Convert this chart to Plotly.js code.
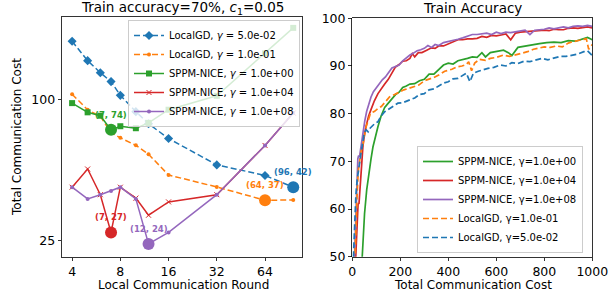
<!DOCTYPE html>
<html>
<head>
<meta charset="utf-8">
<script src="https://cdn.plot.ly/plotly-3.0.1.min.js"></script>
<style>html,body{margin:0;padding:0;background:#fff;}#chart{width:609px;height:294px;}</style>
</head>
<body>
<div id="chart"></div>
<script>
// ---------- Left panel: cost vs local communication round ----------
const localRounds = [4, 5, 6, 7, 8, 10, 12, 16, 32, 64, 96];
const costLocalGD005 = [178, 147, 130.6, 119.6, 104.5, 89, 79, 68.3, 52.7, 47.5, 42.3];
const costLocalGD01  = [105.7, 90.7, 85, 72.3, 68.8, 63.9, 58.5, 47.7, 42.4, 37.2, 37.3];
const costSPPM1      = [96.8, 88.4, 85.5, 74.4, 77.1, 75.6, 79.7, 90.7, 104, 158, 203];
const costSPPM1e4    = [42.3, 50.6, 39.3, 27.1, 42.3, 38, 32.1, 36.6, 39.3, 63.8, 87.8];
const costSPPM1e8    = [42.3, 37.7, 39.3, 40.8, 42.3, 37.7, 24.2, 27.1, 39.3, 63.8, 87.8];
const leftNames = ['LocalGD, <i>γ</i> = 5.0e-02', 'LocalGD, <i>γ</i> = 1.0e-01',
  'SPPM-NICE, <i>γ</i> = 1.0e+00', 'SPPM-NICE, <i>γ</i> = 1.0e+04', 'SPPM-NICE, <i>γ</i> = 1.0e+08'];

// ---------- Right panel: train accuracy vs total communication cost ----------
const accCostSPPM1 = [36,45,51,60,68,78,86,96,107,120,135,150,165,180,195,210,225,240,260,280,300,320,340,360,380,400,420,440,460,480,500,520,540,555,575,600,630,650,665,690,720,750,780,810,840,870,900,930,960,980,1000];
const accSPPM1     = [45,54,59,64,67.5,70.5,73,75.3,77.3,79.5,81.3,82.2,83.2,84,84.5,85.5,85.8,86.2,86.3,86.9,87.2,88.3,88.3,89.3,90.2,90.6,90.4,91.1,91.3,91.6,91.9,91.8,92.8,91.9,92.8,93.0,93.3,92.8,92.2,93.9,94.2,94.5,94.7,94.9,95.0,94.9,95.3,95.2,95.6,96.0,95.5];

const accCostSPPM1e4 = [10,14,18,21,24,28,31,35,40,44,50,58,68,79,92,107,120,135,150,165,180,195,210,225,240,250,260,275,290,310,330,345,360,380,400,420,440,460,480,500,520,540,560,580,600,620,640,660,680,700,720,740,760,780,800,820,840,860,880,900,920,940,960,980,1000];
const accSPPM1e4     = [45,50,54,56.5,61,61.2,63,66,70,73,75.5,77.5,79.5,81,82.7,84.2,85.2,86.2,87.2,88.5,89.8,90.3,91,91.1,91.6,92.6,91.9,92.8,92.8,93.3,93.8,93.7,94.2,94.2,94.6,95.1,95.5,95.5,95.7,95.7,95.8,96.2,96.0,96.4,96.3,96.5,96.7,95.5,96.9,97.1,97.2,97.3,97.4,97.5,97.5,97.4,97.7,97.6,97.6,97.9,98.0,97.9,98.1,98.2,98.0];

const accCostSPPM1e8 = [6,10,14,17,20,23,26,30,33,38,44,52,60,68,78,88,100,112,125,138,150,165,180,195,210,225,240,255,270,285,300,315,330,345,360,380,400,420,440,460,480,500,520,540,560,580,600,620,640,660,680,700,720,740,760,780,800,820,840,860,880,900,920,940,960,980,1000];
const accSPPM1e8     = [45,52,57,60,65,70.5,71.2,71,72,74,76,78.5,80.5,82,83.5,84.6,85.5,86.3,87.1,87.7,88.5,89.6,89.9,90.2,91.1,91.8,92.3,92.7,93.2,93.4,93.7,94.3,93.9,94.5,94.3,94.9,95.1,95.3,95.6,95.9,96.2,96.6,96.6,96.7,96.9,96.6,97.1,96.8,97.1,97.0,97.2,97.3,97.5,96.6,97.5,97.6,97.7,98.0,97.8,98.0,98.2,98.0,98.3,98.4,98.3,98.5,98.3];

const accCostLocalGD01 = [8,12,16,20,25,31,36,44,50,58,66,75,85,93,105,121,138,155,176,195,215,235,255,277,300,318,340,360,385,415,435,457,475,485,497,510,530,555,575,600,630,655,680,705,730,755,780,800,825,850,875,900,920,940,960,975,985,1000];
const accLocalGD01     = [45,52,58,63,68,70.5,72,73.5,75,77.3,78.5,80,80.3,80.5,81,81.5,82.5,83.5,84,84.5,85,85.3,85.7,86,86.9,87.2,87.6,88.1,88.9,89.3,89.8,90,90.3,90.9,89.0,90.6,91.4,91.2,91.6,91.8,92.3,92.0,92.3,92.6,93.0,93.5,93.7,94.0,93.9,94.2,94.0,94.8,95.1,95.3,95.5,95.7,93.5,94.5];

const accCostLocalGD005 = [3,6,10,15,20,24,30,37,44,50,58,66,75,85,95,107,120,135,155,175,190,210,235,260,280,300,320,340,360,380,400,420,440,460,475,490,505,525,545,565,590,615,640,665,690,715,740,765,790,815,840,865,890,915,940,965,980,1000];
const accLocalGD005     = [48,52,59,63,66,67.5,70,72,74,76,76.6,76.2,77,77.5,78,78.3,79.5,80.4,81,81.6,82.2,82.3,82.8,83.3,84,84.2,85,85.2,85.8,86.4,86.7,87.3,87.4,88,88.5,86.7,88.5,88.9,89.2,89.5,89.7,90.2,90.0,90.7,90.5,91.0,90.9,91.3,91.6,91.3,91.7,92.0,92.0,92.3,92.5,93.0,93.2,92.2];

const C = {blue:'#1f77b4', orange:'#ff7f0e', green:'#2ca02c', red:'#d62728', purple:'#9467bd'};
const FONT = 'DejaVu Sans, sans-serif';

const leftSeries = [
  {y: costLocalGD005, c: C.blue,   dash: '6px,3px', sym: 'diamond', ms: 7, name: leftNames[0]},
  {y: costLocalGD01,  c: C.orange, dash: '6px,3px', sym: 'circle',  ms: 4, name: leftNames[1]},
  {y: costSPPM1,      c: C.green,  dash: 'solid',   sym: 'square',  ms: 6, name: leftNames[2]},
  {y: costSPPM1e4,    c: C.red,    dash: 'solid',   sym: 'x-thin',  ms: 5, name: leftNames[3]},
  {y: costSPPM1e8,    c: C.purple, dash: 'solid',   sym: 'circle',  ms: 4, name: leftNames[4]},
];

const traces = [];
const annotations = [];
leftSeries.forEach(s => {
  traces.push({
    x: localRounds, y: s.y, xaxis: 'x', yaxis: 'y', type: 'scatter', mode: 'lines+markers',
    name: s.name, legend: 'legend',
    line: {color: s.c, width: 1.5, dash: s.dash},
    marker: {symbol: s.sym, size: s.ms, color: s.c, line: {color: s.c, width: s.sym === 'x-thin' ? 1 : 0}}
  });
});
leftSeries.forEach(s => {
  let bi = 0;
  for (let i = 1; i < s.y.length; i++) if (s.y[i] < s.y[bi]) bi = i;
  traces.push({
    x: [localRounds[bi]], y: [s.y[bi]], xaxis: 'x', yaxis: 'y', type: 'scatter', mode: 'markers',
    showlegend: false, hoverinfo: 'skip',
    marker: {symbol: 'circle', size: 12, color: s.c}
  });
  annotations.push({
    xref: 'x', yref: 'y', x: Math.log10(localRounds[bi]), y: Math.log10(s.y[bi]),
    text: '(' + localRounds[bi] + ', ' + Math.floor(s.y[bi]) + ')', showarrow: false,
    yshift: 15, font: {family: FONT, size: 8.5, color: s.c, weight: 'bold'}
  });
});

const rightSeries = [
  {x: accCostSPPM1,      y: accSPPM1,      c: C.green,  dash: 'solid',   name: 'SPPM-NICE, γ=1.0e+00'},
  {x: accCostSPPM1e4,    y: accSPPM1e4,    c: C.red,    dash: 'solid',   name: 'SPPM-NICE, γ=1.0e+04'},
  {x: accCostSPPM1e8,    y: accSPPM1e8,    c: C.purple, dash: 'solid',   name: 'SPPM-NICE, γ=1.0e+08'},
  {x: accCostLocalGD01,  y: accLocalGD01,  c: C.orange, dash: '6px,3px', name: 'LocalGD, γ=1.0e-01'},
  {x: accCostLocalGD005, y: accLocalGD005, c: C.blue,   dash: '6px,3px', name: 'LocalGD, γ=5.0e-02'},
];
rightSeries.forEach(s => {
  traces.push({
    x: s.x, y: s.y, xaxis: 'x2', yaxis: 'y2', type: 'scatter', mode: 'lines',
    name: s.name, legend: 'legend2',
    line: {color: s.c, width: 1.7, dash: s.dash}
  });
});

const axisCommon = {
  showline: true, mirror: true, linecolor: '#000', linewidth: 0.8,
  ticks: 'outside', ticklen: 3.5, tickwidth: 0.8, tickcolor: '#000',
  showgrid: false, zeroline: false,
  tickfont: {family: FONT, size: 12.5, color: '#000'}
};

function txt(text, x, y, size, extra) {
  return Object.assign({xref: 'paper', yref: 'paper', x: x / 609, y: 1 - y / 294, text: text,
    showarrow: false, xanchor: 'center', yanchor: 'middle',
    font: {family: FONT, size: size, color: '#000'}}, extra || {});
}
annotations.push(txt('Train accuracy=70%, <i>c</i><sub>1</sub>=0.05', 182, 8, 13.5));
annotations.push(txt('Train Accuracy', 472.5, 8, 13.5));
annotations.push(txt('Local Communication Round', 183, 284.5, 12));
annotations.push(txt('Total Communication Cost', 472.5, 284.5, 12));
annotations.push(txt('Total Communication Cost', 17, 137, 12, {textangle: -90}));

const legendCommon = {
  bgcolor: 'rgba(255,255,255,0.8)', bordercolor: '#cccccc', borderwidth: 1,
  font: {family: FONT, size: 10, color: '#000'}, itemwidth: 30, tracegroupgap: 0
};

const layout = {
  width: 609, height: 294,
  margin: {l: 0, r: 0, t: 0, b: 0},
  paper_bgcolor: '#fff', plot_bgcolor: '#fff',
  font: {family: FONT},
  xaxis: Object.assign({}, axisCommon, {domain: [62/609, 302/609], type: 'log', range: [0.539, 2.037],
    tickvals: [4, 8, 16, 32, 64], ticktext: ['4', '8', '16', '32', '64'], anchor: 'y'}),
  yaxis: Object.assign({}, axisCommon, {domain: [1 - 257/294, 1 - 17/294], type: 'log', range: [1.328, 2.354],
    tickvals: [25, 100], ticktext: ['25', '100'], anchor: 'x'}),
  xaxis2: Object.assign({}, axisCommon, {domain: [352.3/609, 592.3/609], range: [0, 1000],
    tickvals: [0, 200, 400, 600, 800, 1000], anchor: 'y2'}),
  yaxis2: Object.assign({}, axisCommon, {domain: [1 - 256.7/294, 1 - 18.3/294], range: [50, 100],
    tickvals: [50, 60, 70, 80, 90, 100], anchor: 'x2'}),
  legend: Object.assign({}, legendCommon, {x: 300/609, y: 1 - 20/294, xanchor: 'right', yanchor: 'top'}),
  legend2: Object.assign({}, legendCommon, {x: 583/609, y: 1 - 253/294, xanchor: 'right', yanchor: 'bottom'}),
  annotations: annotations,
  showlegend: true
};

Plotly.newPlot('chart', traces, layout, {staticPlot: true, displayModeBar: false});
</script>
</body>
</html>
